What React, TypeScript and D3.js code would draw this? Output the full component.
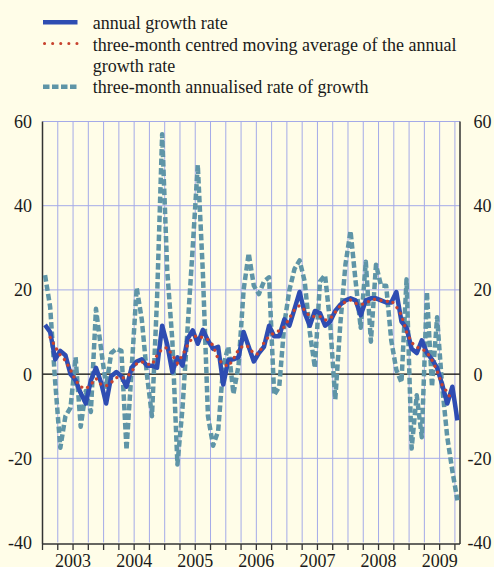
import React, { useEffect, useMemo } from "react";
import * as d3 from "d3";

// ---- data (monthly, Jan 2003 – Oct 2009) ----
const YEARS = ["2003", "2004", "2005", "2006", "2007", "2008", "2009"];
const MONTHS: string[] = d3
  .range(82)
  .map((i) => `${2003 + Math.floor(i / 12)}-${String((i % 12) + 1).padStart(2, "0")}`);

const annualGrowth: number[] = [
  11.7, 10.0, 3.5, 5.5, 4.5, 0.0, -1.5, -4.5, -7.0, -1.5, 1.5, -2.0,
  -7.0, -0.5, 0.5, -0.5, -3.0, 1.5, 3.0, 3.5, 2.0, 2.0, 1.5, 11.5,
  7.0, 0.5, 4.0, 2.0, 8.4, 10.4, 7.2, 10.5, 8.0, 6.0, 6.5, -2.5,
  3.3, 3.5, 4.0, 10.0, 6.5, 3.0, 5.0, 6.5, 11.5, 9.0, 9.0, 13.0,
  11.5, 15.5, 19.5, 14.5, 11.5, 15.0, 14.5, 11.5, 12.5, 15.0, 16.5, 17.5,
  18.0, 17.5, 14.0, 17.5, 18.0, 18.0, 17.5, 17.0, 17.0, 19.5, 12.5, 11.0,
  6.0, 5.0, 8.0, 5.0, 3.5, 1.5, -2.5, -7.0, -3.0, -11.0,
];

const movingAverage: (number | null)[] = [
  null, 8.7, 6.5, 4.5, 3.2, 1.0, -1.5, -3.0, -3.5, -2.5, -1.0, -2.5,
  -2.8, -2.0, -0.8, -1.0, -0.7, 0.5, 2.5, 2.9, 2.4, 2.2, 4.5, 6.0,
  6.3, 4.5, 2.6, 4.5, 6.9, 8.7, 9.2, 8.6, 8.2, 6.8, 3.5, 2.4,
  1.8, 3.6, 5.8, 6.8, 6.5, 4.8, 4.8, 7.5, 9.0, 9.8, 10.3, 11.2,
  13.3, 15.3, 16.3, 15.2, 13.7, 13.7, 13.7, 12.8, 13.2, 14.7, 16.3, 17.2,
  17.6, 16.8, 16.5, 16.8, 17.6, 17.8, 17.5, 17.2, 17.5, 16.0, 14.0, 10.0,
  7.5, 6.4, 6.0, 5.2, 3.3, 0.8, -2.6, -4.3, -6.5, null,
];

const annualised: number[] = [
  23.5, 16.0, -2.0, -17.5, -10.0, -8.0, 4.0, -12.5, -4.0, -9.0, 15.5, 6.0,
  -3.0, 5.0, 6.0, 5.5, -18.0, 1.0, 20.5, 13.0, 0.0, -10.0, 18.0, 57.0,
  24.5, 8.0, -21.5, -8.0, 11.0, 30.0, 49.7, 24.0, -10.0, -17.0, -13.5, 2.0,
  6.5, -4.7, 2.0, 20.0, 28.7, 21.0, 19.0, 22.0, 23.0, -5.0, -3.0, 12.0,
  20.0, 25.0, 27.0, 22.0, 10.0, 1.5, 22.0, 23.5, 12.0, -6.0, 12.0, 26.0,
  34.0, 22.0, 11.0, 26.7, 7.7, 26.0, 21.0, 21.0, 8.0, 1.0, -2.0, 22.5,
  -17.7, -5.0, -15.0, 19.5, -3.0, 13.5, -3.0, -15.0, -23.0, -30.0,
];

const Y_TICKS = [-40, -20, 0, 20, 40, 60];
const LEGEND = [
  ["annual growth rate"],
  ["three-month centred moving average of the annual", "growth rate"],
  ["three-month annualised rate of growth"],
];

// ---- styles ----
const W = 494;
const H = 567;
const BG = "#FFFDE8";
const GRID = "#A4AAE8";
const BLUE = "#2E4DB2";
const RED = "#C8432F";
const TEAL = "#5F95A7";
const TEXT = "#1a1a1a";
const SERIF_CANDIDATES = ["Liberation Serif", "Tinos", "Times New Roman", "Times", "Nimbus Roman", "DejaVu Serif"];

function pickFont(): { family: string; size: number } {
  try {
    const ctx = document.createElement("canvas").getContext("2d");
    if (!ctx) return { family: "serif", size: 18 };
    const sample = "annual growth rate";
    ctx.font = "18px monospace";
    const mono = ctx.measureText(sample).width;
    let fam = "serif";
    for (const f of SERIF_CANDIDATES) {
      ctx.font = `18px '${f}', monospace`;
      if (Math.abs(ctx.measureText(sample).width - mono) > 0.5) {
        fam = `'${f}', serif`;
        break;
      }
    }
    ctx.font = `18px ${fam}`;
    const w = ctx.measureText(sample).width;
    const size = Math.min(18, (18 * 135.6) / w);
    return { family: fam, size };
  } catch (e) {
    return { family: "serif", size: 18 };
  }
}

export default function App() {
  useEffect(() => {
    document.body.style.margin = "0";
    document.body.style.background = BG;
  }, []);

  const font = useMemo(pickFont, []);

  const x = d3.scaleBand<string>().domain(MONTHS).range([42.5, 460]).padding(0);
  const bw = x.bandwidth();
  const cx = (i: number) => (x(MONTHS[i]) as number) + bw / 2;
  const edge = (k: number) => (k < MONTHS.length ? (x(MONTHS[k]) as number) : 460);
  const y = d3.scaleLinear().domain([-40, 60]).range([542.5, 121.5]);

  const line = d3
    .line<number | null>()
    .defined((d) => d != null)
    .x((_, i) => cx(i))
    .y((d) => y(d as number));

  const quarterEdges = d3.range(0, MONTHS.length, 3);
  const [x0, x1] = x.range();
  const ts = { fontFamily: font.family, fontSize: `${font.size}px` } as React.CSSProperties;
  const mid = font.size * 0.36;

  return (
    <svg width={W} height={H} style={{ display: "block", background: BG, fontFamily: font.family }}>
      <rect x={0} y={0} width={W} height={H} fill={BG} />

      {/* legend */}
      <line x1={43} x2={77.5} y1={22.3} y2={22.3} stroke={BLUE} strokeWidth={4.5} />
      <line x1={44.5} x2={77.5} y1={43.5} y2={43.5} stroke={RED} strokeWidth={3}
        strokeDasharray="0.1 8" strokeLinecap="round" />
      <line x1={43} x2={77.5} y1={86.7} y2={86.7} stroke={TEAL} strokeWidth={4.5}
        strokeDasharray="6.5 2.5" />
      <text x={92.7} y={28.5} style={ts} fill={TEXT}>{LEGEND[0][0]}</text>
      <text x={92.7} y={50.5} style={ts} fill={TEXT}>{LEGEND[1][0]}</text>
      <text x={92.7} y={71.5} style={ts} fill={TEXT}>{LEGEND[1][1]}</text>
      <text x={92.7} y={93} style={ts} fill={TEXT}>{LEGEND[2][0]}</text>

      {/* grid */}
      {Y_TICKS.filter((t) => t !== 0 && t !== -40).map((t) => (
        <line key={"h" + t} x1={x0} x2={x1} y1={y(t)} y2={y(t)} stroke={GRID} strokeWidth={1} />
      ))}
      {quarterEdges.filter((k) => k > 0).map((k) => (
        <line key={"v" + k} x1={edge(k)} x2={edge(k)} y1={y(60)} y2={y(-40)} stroke={GRID} strokeWidth={1} />
      ))}
      <line x1={x0} x2={x1} y1={y(0)} y2={y(0)} stroke="#000" strokeWidth={1.3} />

      {/* axes */}
      <line x1={x0} x2={x0} y1={y(60)} y2={y(-40) + 1.5} stroke="#333" strokeWidth={1.5} />
      <line x1={x1} x2={x1} y1={y(60)} y2={y(-40) + 1.5} stroke="#333" strokeWidth={1.5} />
      <line x1={x0} x2={x1} y1={544} y2={544} stroke="#333" strokeWidth={1.3} />
      {quarterEdges.map((k) => (
        <line key={"t" + k} x1={edge(k)} x2={edge(k)} y1={544} y2={550} stroke="#333" strokeWidth={1.3} />
      ))}

      {/* y labels */}
      {Y_TICKS.map((t) => (
        <text key={"l" + t} x={32} y={y(t) + mid} style={ts} fill={TEXT} textAnchor="end">{t}</text>
      ))}
      {Y_TICKS.map((t) => (
        <text key={"r" + t} x={t < 0 ? 467.5 : 473.5} y={y(t) + mid} style={ts} fill={TEXT}>{t}</text>
      ))}

      {/* x labels */}
      {YEARS.map((yr, yi) => (
        <text key={yr} x={edge(yi * 12) + bw * 6} y={567} style={ts} fill={TEXT} textAnchor="middle">{yr}</text>
      ))}

      {/* series */}
      <path d={line(annualised) || ""} fill="none" stroke={TEAL} strokeWidth={4.5}
        strokeDasharray="6.5 3" strokeLinejoin="round" />
      <path d={line(annualGrowth) || ""} fill="none" stroke={BLUE} strokeWidth={4.5} strokeLinejoin="round" />
      <path d={line(movingAverage) || ""} fill="none" stroke={RED} strokeWidth={3.2}
        strokeDasharray="0.1 6.5" strokeLinecap="round" />
    </svg>
  );
}
